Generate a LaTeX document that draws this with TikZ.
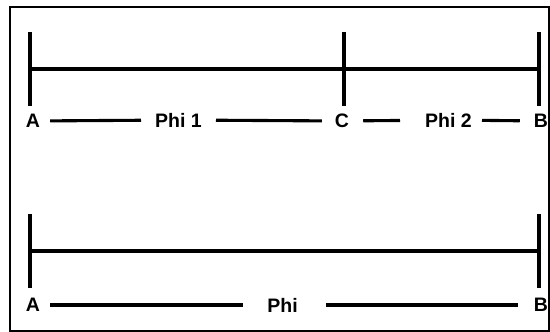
\documentclass[tikz,border=0pt]{standalone}
\usepackage{fontspec}
\setmainfont{Liberation Sans}
\begin{document}
\begin{tikzpicture}[x=1pt,y=-1pt,
  lbl/.style={inner sep=0pt,font=\fontsize{19.5}{20}\selectfont\bfseries},
  bar/.style={line width=3.4pt},
  seg/.style={line width=3.1pt},
  frame/.style={line width=2.6pt}]
\useasboundingbox (0,0) rectangle (550,332);
\draw[frame] (10,7) rectangle (549,331);
% top diagram
\coordinate (ta1) at (30,32); \coordinate (ta2) at (30,106);
\coordinate (tc1) at (344,32); \coordinate (tc2) at (344,106);
\coordinate (tb1) at (539,32); \coordinate (tb2) at (539,106);
\coordinate (tam) at (30,69); \coordinate (tbm) at (539,69);
\draw[bar] (ta1) -- (ta2);
\draw[bar] (tc1) -- (tc2);
\draw[bar] (tb1) -- (tb2);
\draw[bar] (tam) -- (tbm);
\node[lbl] (A1) at (33,121) {A};
\node[lbl] (P1) at (178.5,120) {Phi 1};
\node[lbl] (C1) at (342,121) {C};
\node[lbl] (P2) at (448.5,120) {Phi 2};
\node[lbl] (B1) at (541,121) {B};
\draw[seg,shorten <=10pt,shorten >=14pt] (A1) -- (P1);
\draw[seg,shorten <=14pt,shorten >=13pt] (P1) -- (C1);
\draw[seg,shorten <=14pt,shorten >=25pt] (C1) -- (P2);
\draw[seg,shorten <=10pt,shorten >=14pt] (P2) -- (B1);
% bottom diagram
\coordinate (ba1) at (30,214); \coordinate (ba2) at (30,288);
\coordinate (bb1) at (539,214); \coordinate (bb2) at (539,288);
\coordinate (bam) at (30,251); \coordinate (bbm) at (539,251);
\draw[bar] (ba1) -- (ba2);
\draw[bar] (bb1) -- (bb2);
\draw[bar] (bam) -- (bbm);
\node[lbl] (A2) at (33,305) {A};
\node[lbl] (P3) at (282.5,305) {Phi};
\node[lbl] (B2) at (541,305) {B};
\draw[seg,shorten <=10pt,shorten >=24pt] (A2) -- (P3);
\draw[seg,shorten <=28pt,shorten >=16pt] (P3) -- (B2);
\end{tikzpicture}
\end{document}
